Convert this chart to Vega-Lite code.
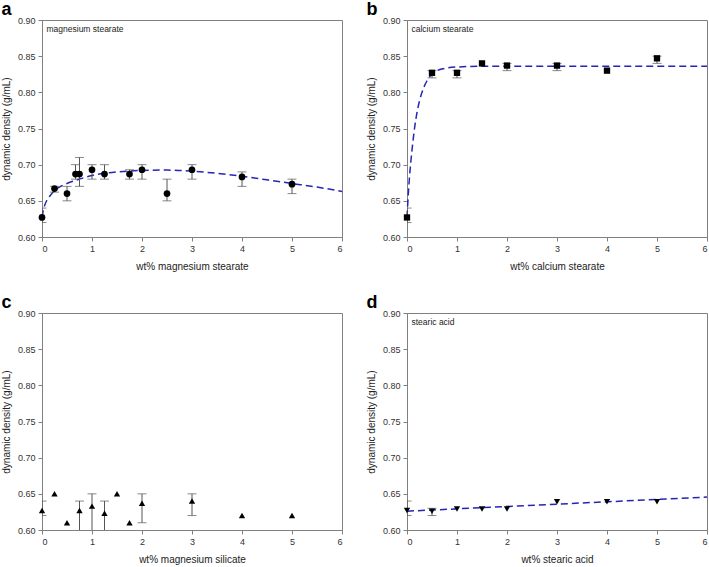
{
  "$schema": "https://vega.github.io/schema/vega-lite/v6.json",
  "padding": {"left": 0, "top": 0, "right": 0, "bottom": 0},
  "background": "white",
  "config": {
    "font": "Liberation Sans",
    "view": {"stroke": "#808080", "strokeWidth": 1},
    "axis": {
      "domainColor": "#808080",
      "tickColor": "#808080",
      "labelColor": "#333333",
      "titleColor": "#222222",
      "labelFont": "Liberation Sans",
      "titleFont": "Liberation Sans",
      "labelFontSize": 9,
      "titleFontSize": 10,
      "titleFontWeight": "normal",
      "grid": false,
      "tickSize": 4,
      "labelPadding": 3,
      "labelOverlap": false
    },
    "axisX": {"titlePadding": 8},
    "axisY": {"titlePadding": 6},
    "title": {"anchor": "start", "frame": "bounds", "fontSize": 18, "fontWeight": "bold", "font": "Liberation Sans", "color": "#000000", "offset": -3}
  },
  "datasets": {
    "a_pts": [
      {"x": 0, "y": 0.627, "lo": 0.62, "hi": 0.64},
      {"x": 0.25, "y": 0.667, "lo": 0.662, "hi": 0.67},
      {"x": 0.5, "y": 0.66, "lo": 0.65, "hi": 0.67},
      {"x": 0.67, "y": 0.687, "lo": 0.68, "hi": 0.70},
      {"x": 0.75, "y": 0.687, "lo": 0.67, "hi": 0.71},
      {"x": 1, "y": 0.693, "lo": 0.68, "hi": 0.70},
      {"x": 1.25, "y": 0.687, "lo": 0.68, "hi": 0.70},
      {"x": 1.75, "y": 0.687, "lo": 0.68, "hi": 0.693},
      {"x": 2, "y": 0.693, "lo": 0.68, "hi": 0.70},
      {"x": 2.5, "y": 0.66, "lo": 0.65, "hi": 0.68},
      {"x": 3, "y": 0.693, "lo": 0.68, "hi": 0.70},
      {"x": 4, "y": 0.683, "lo": 0.67, "hi": 0.69},
      {"x": 5, "y": 0.673, "lo": 0.66, "hi": 0.68}
    ],
    "a_fit": [
      {"x": 0, "y": 0.627}, {"x": 0.03, "y": 0.638}, {"x": 0.06, "y": 0.645},
      {"x": 0.1, "y": 0.651}, {"x": 0.15, "y": 0.656}, {"x": 0.25, "y": 0.664},
      {"x": 0.4, "y": 0.671}, {"x": 0.5, "y": 0.674}, {"x": 0.75, "y": 0.68},
      {"x": 1, "y": 0.685}, {"x": 1.25, "y": 0.688}, {"x": 1.5, "y": 0.69},
      {"x": 2, "y": 0.692}, {"x": 2.5, "y": 0.6925}, {"x": 3, "y": 0.691},
      {"x": 3.5, "y": 0.688}, {"x": 4, "y": 0.684}, {"x": 4.5, "y": 0.679},
      {"x": 5, "y": 0.674}, {"x": 5.5, "y": 0.669}, {"x": 6, "y": 0.663}
    ],
    "b_pts": [
      {"x": 0, "y": 0.627, "lo": 0.62, "hi": 0.64},
      {"x": 0.5, "y": 0.827, "lo": 0.82, "hi": 0.83},
      {"x": 1, "y": 0.827, "lo": 0.82, "hi": 0.83},
      {"x": 1.5, "y": 0.84, "lo": null, "hi": null},
      {"x": 2, "y": 0.837, "lo": 0.83, "hi": 0.84},
      {"x": 3, "y": 0.837, "lo": 0.83, "hi": 0.84},
      {"x": 4, "y": 0.83, "lo": null, "hi": null},
      {"x": 5, "y": 0.847, "lo": 0.84, "hi": 0.85}
    ],
    "b_fit": [
      {"x": 0, "y": 0.627}, {"x": 0.025, "y": 0.658}, {"x": 0.05, "y": 0.683},
      {"x": 0.075, "y": 0.703}, {"x": 0.1, "y": 0.72}, {"x": 0.15, "y": 0.75},
      {"x": 0.2, "y": 0.772}, {"x": 0.25, "y": 0.788}, {"x": 0.3, "y": 0.8},
      {"x": 0.4, "y": 0.816}, {"x": 0.5, "y": 0.825}, {"x": 0.6, "y": 0.83},
      {"x": 0.75, "y": 0.833}, {"x": 1, "y": 0.835}, {"x": 1.5, "y": 0.836},
      {"x": 6, "y": 0.836}
    ],
    "c_pts": [
      {"x": 0, "y": 0.627, "lo": 0.62, "hi": 0.64},
      {"x": 0.25, "y": 0.65, "lo": null, "hi": null},
      {"x": 0.5, "y": 0.61, "lo": null, "hi": null},
      {"x": 0.75, "y": 0.627, "lo": 0.59, "hi": 0.64},
      {"x": 1, "y": 0.633, "lo": 0.59, "hi": 0.65},
      {"x": 1.25, "y": 0.623, "lo": 0.59, "hi": 0.64},
      {"x": 1.5, "y": 0.65, "lo": null, "hi": null},
      {"x": 1.75, "y": 0.61, "lo": null, "hi": null},
      {"x": 2, "y": 0.637, "lo": 0.61, "hi": 0.65},
      {"x": 3, "y": 0.64, "lo": 0.62, "hi": 0.65},
      {"x": 4, "y": 0.62, "lo": null, "hi": null},
      {"x": 5, "y": 0.62, "lo": null, "hi": null}
    ],
    "d_pts": [
      {"x": 0, "y": 0.627, "lo": 0.62, "hi": 0.64},
      {"x": 0.5, "y": 0.626, "lo": 0.62, "hi": 0.63},
      {"x": 1, "y": 0.629, "lo": null, "hi": null},
      {"x": 1.5, "y": 0.629, "lo": null, "hi": null},
      {"x": 2, "y": 0.629, "lo": null, "hi": null},
      {"x": 3, "y": 0.639, "lo": null, "hi": null},
      {"x": 4, "y": 0.639, "lo": null, "hi": null},
      {"x": 5, "y": 0.639, "lo": null, "hi": null}
    ],
    "d_fit": [
      {"x": 0, "y": 0.626}, {"x": 6, "y": 0.6455}
    ]
  },
  "columns": 2,
  "spacing": {"column": 19, "row": 21},
  "concat": [
    {
      "title": {"text": "a"},
      "width": 300, "height": 217,
      "layer": [
        {"data": {"name": "a_fit"}, "mark": {"type": "line", "color": "#2525b8", "strokeWidth": 1.5, "strokeDash": [7, 4], "interpolate": "monotone"},
         "encoding": {
           "x": {"field": "x", "type": "quantitative", "scale": {"domain": [0, 6], "nice": false}, "axis": {"values": [0, 1, 2, 3, 4, 5, 6], "title": "wt%  magnesium stearate"}},
           "y": {"field": "y", "type": "quantitative", "scale": {"domain": [0.6, 0.9], "nice": false, "zero": false}, "axis": {"values": [0.6, 0.65, 0.7, 0.75, 0.8, 0.85, 0.9], "format": ".2f", "title": "dynamic density  (g/mL)"}}}},
        {"data": {"name": "a_pts"}, "transform": [{"filter": "datum.lo != null"}], "mark": {"type": "rule", "color": "#555555", "strokeWidth": 1, "clip": true},
         "encoding": {
           "x": {"field": "x", "type": "quantitative", "scale": {"domain": [0, 6], "nice": false}, "axis": {"values": [0, 1, 2, 3, 4, 5, 6], "title": "wt%  magnesium stearate"}},
           "y": {"field": "lo", "type": "quantitative", "scale": {"domain": [0.6, 0.9], "nice": false, "zero": false}, "axis": {"values": [0.6, 0.65, 0.7, 0.75, 0.8, 0.85, 0.9], "format": ".2f", "title": "dynamic density  (g/mL)"}},
           "y2": {"field": "hi"}}},
        {"data": {"name": "a_pts"}, "transform": [{"filter": "datum.lo != null"}], "mark": {"type": "tick", "orient": "horizontal", "color": "#555555", "size": 9, "thickness": 1, "clip": true},
         "encoding": {
           "x": {"field": "x", "type": "quantitative", "scale": {"domain": [0, 6], "nice": false}, "axis": {"values": [0, 1, 2, 3, 4, 5, 6], "title": "wt%  magnesium stearate"}},
           "y": {"field": "lo", "type": "quantitative", "scale": {"domain": [0.6, 0.9], "nice": false, "zero": false}, "axis": {"values": [0.6, 0.65, 0.7, 0.75, 0.8, 0.85, 0.9], "format": ".2f", "title": "dynamic density  (g/mL)"}}}},
        {"data": {"name": "a_pts"}, "transform": [{"filter": "datum.lo != null"}], "mark": {"type": "tick", "orient": "horizontal", "color": "#555555", "size": 9, "thickness": 1, "clip": true},
         "encoding": {
           "x": {"field": "x", "type": "quantitative", "scale": {"domain": [0, 6], "nice": false}, "axis": {"values": [0, 1, 2, 3, 4, 5, 6], "title": "wt%  magnesium stearate"}},
           "y": {"field": "hi", "type": "quantitative", "scale": {"domain": [0.6, 0.9], "nice": false, "zero": false}, "axis": {"values": [0.6, 0.65, 0.7, 0.75, 0.8, 0.85, 0.9], "format": ".2f", "title": "dynamic density  (g/mL)"}}}},
        {"data": {"name": "a_pts"}, "mark": {"type": "point", "shape": "circle", "filled": true, "color": "#000000", "opacity": 1, "size": 45},
         "encoding": {
           "x": {"field": "x", "type": "quantitative", "scale": {"domain": [0, 6], "nice": false}, "axis": {"values": [0, 1, 2, 3, 4, 5, 6], "title": "wt%  magnesium stearate"}},
           "y": {"field": "y", "type": "quantitative", "scale": {"domain": [0.6, 0.9], "nice": false, "zero": false}, "axis": {"values": [0.6, 0.65, 0.7, 0.75, 0.8, 0.85, 0.9], "format": ".2f", "title": "dynamic density  (g/mL)"}}}},
        {"data": {"values": [{"label": "magnesium stearate"}]}, "mark": {"type": "text", "align": "left", "baseline": "middle", "fontSize": 8.5, "color": "#222222"},
         "encoding": {
           "x": {"datum": 0.09, "type": "quantitative", "scale": {"domain": [0, 6], "nice": false}, "axis": {"values": [0, 1, 2, 3, 4, 5, 6], "title": "wt%  magnesium stearate"}},
           "y": {"datum": 0.888, "type": "quantitative", "scale": {"domain": [0.6, 0.9], "nice": false, "zero": false}, "axis": {"values": [0.6, 0.65, 0.7, 0.75, 0.8, 0.85, 0.9], "format": ".2f", "title": "dynamic density  (g/mL)"}},
           "text": {"field": "label", "type": "nominal"}}}
      ]
    },
    {
      "title": {"text": "b"},
      "width": 300, "height": 217,
      "layer": [
        {"data": {"name": "b_fit"}, "mark": {"type": "line", "color": "#2525b8", "strokeWidth": 1.5, "strokeDash": [7, 4], "interpolate": "monotone"},
         "encoding": {
           "x": {"field": "x", "type": "quantitative", "scale": {"domain": [0, 6], "nice": false}, "axis": {"values": [0, 1, 2, 3, 4, 5, 6], "title": "wt% calcium stearate"}},
           "y": {"field": "y", "type": "quantitative", "scale": {"domain": [0.6, 0.9], "nice": false, "zero": false}, "axis": {"values": [0.6, 0.65, 0.7, 0.75, 0.8, 0.85, 0.9], "format": ".2f", "title": "dynamic density  (g/mL)"}}}},
        {"data": {"name": "b_pts"}, "transform": [{"filter": "datum.lo != null"}], "mark": {"type": "rule", "color": "#555555", "strokeWidth": 1, "clip": true},
         "encoding": {
           "x": {"field": "x", "type": "quantitative", "scale": {"domain": [0, 6], "nice": false}, "axis": {"values": [0, 1, 2, 3, 4, 5, 6], "title": "wt% calcium stearate"}},
           "y": {"field": "lo", "type": "quantitative", "scale": {"domain": [0.6, 0.9], "nice": false, "zero": false}, "axis": {"values": [0.6, 0.65, 0.7, 0.75, 0.8, 0.85, 0.9], "format": ".2f", "title": "dynamic density  (g/mL)"}},
           "y2": {"field": "hi"}}},
        {"data": {"name": "b_pts"}, "transform": [{"filter": "datum.lo != null"}], "mark": {"type": "tick", "orient": "horizontal", "color": "#555555", "size": 9, "thickness": 1, "clip": true},
         "encoding": {
           "x": {"field": "x", "type": "quantitative", "scale": {"domain": [0, 6], "nice": false}, "axis": {"values": [0, 1, 2, 3, 4, 5, 6], "title": "wt% calcium stearate"}},
           "y": {"field": "lo", "type": "quantitative", "scale": {"domain": [0.6, 0.9], "nice": false, "zero": false}, "axis": {"values": [0.6, 0.65, 0.7, 0.75, 0.8, 0.85, 0.9], "format": ".2f", "title": "dynamic density  (g/mL)"}}}},
        {"data": {"name": "b_pts"}, "transform": [{"filter": "datum.lo != null"}], "mark": {"type": "tick", "orient": "horizontal", "color": "#555555", "size": 9, "thickness": 1, "clip": true},
         "encoding": {
           "x": {"field": "x", "type": "quantitative", "scale": {"domain": [0, 6], "nice": false}, "axis": {"values": [0, 1, 2, 3, 4, 5, 6], "title": "wt% calcium stearate"}},
           "y": {"field": "hi", "type": "quantitative", "scale": {"domain": [0.6, 0.9], "nice": false, "zero": false}, "axis": {"values": [0.6, 0.65, 0.7, 0.75, 0.8, 0.85, 0.9], "format": ".2f", "title": "dynamic density  (g/mL)"}}}},
        {"data": {"name": "b_pts"}, "mark": {"type": "point", "shape": "square", "filled": true, "color": "#000000", "opacity": 1, "size": 40},
         "encoding": {
           "x": {"field": "x", "type": "quantitative", "scale": {"domain": [0, 6], "nice": false}, "axis": {"values": [0, 1, 2, 3, 4, 5, 6], "title": "wt% calcium stearate"}},
           "y": {"field": "y", "type": "quantitative", "scale": {"domain": [0.6, 0.9], "nice": false, "zero": false}, "axis": {"values": [0.6, 0.65, 0.7, 0.75, 0.8, 0.85, 0.9], "format": ".2f", "title": "dynamic density  (g/mL)"}}}},
        {"data": {"values": [{"label": "calcium stearate"}]}, "mark": {"type": "text", "align": "left", "baseline": "middle", "fontSize": 8.5, "color": "#222222"},
         "encoding": {
           "x": {"datum": 0.09, "type": "quantitative", "scale": {"domain": [0, 6], "nice": false}, "axis": {"values": [0, 1, 2, 3, 4, 5, 6], "title": "wt% calcium stearate"}},
           "y": {"datum": 0.888, "type": "quantitative", "scale": {"domain": [0.6, 0.9], "nice": false, "zero": false}, "axis": {"values": [0.6, 0.65, 0.7, 0.75, 0.8, 0.85, 0.9], "format": ".2f", "title": "dynamic density  (g/mL)"}},
           "text": {"field": "label", "type": "nominal"}}}
      ]
    },
    {
      "title": {"text": "c"},
      "width": 300, "height": 217,
      "layer": [
        {"data": {"name": "c_pts"}, "transform": [{"filter": "datum.lo != null"}], "mark": {"type": "rule", "color": "#555555", "strokeWidth": 1, "clip": true},
         "encoding": {
           "x": {"field": "x", "type": "quantitative", "scale": {"domain": [0, 6], "nice": false}, "axis": {"values": [0, 1, 2, 3, 4, 5, 6], "title": "wt% magnesium silicate"}},
           "y": {"field": "lo", "type": "quantitative", "scale": {"domain": [0.6, 0.9], "nice": false, "zero": false}, "axis": {"values": [0.6, 0.65, 0.7, 0.75, 0.8, 0.85, 0.9], "format": ".2f", "title": "dynamic density  (g/mL)"}},
           "y2": {"field": "hi"}}},
        {"data": {"name": "c_pts"}, "transform": [{"filter": "datum.lo != null"}], "mark": {"type": "tick", "orient": "horizontal", "color": "#555555", "size": 9, "thickness": 1, "clip": true},
         "encoding": {
           "x": {"field": "x", "type": "quantitative", "scale": {"domain": [0, 6], "nice": false}, "axis": {"values": [0, 1, 2, 3, 4, 5, 6], "title": "wt% magnesium silicate"}},
           "y": {"field": "lo", "type": "quantitative", "scale": {"domain": [0.6, 0.9], "nice": false, "zero": false}, "axis": {"values": [0.6, 0.65, 0.7, 0.75, 0.8, 0.85, 0.9], "format": ".2f", "title": "dynamic density  (g/mL)"}}}},
        {"data": {"name": "c_pts"}, "transform": [{"filter": "datum.lo != null"}], "mark": {"type": "tick", "orient": "horizontal", "color": "#555555", "size": 9, "thickness": 1, "clip": true},
         "encoding": {
           "x": {"field": "x", "type": "quantitative", "scale": {"domain": [0, 6], "nice": false}, "axis": {"values": [0, 1, 2, 3, 4, 5, 6], "title": "wt% magnesium silicate"}},
           "y": {"field": "hi", "type": "quantitative", "scale": {"domain": [0.6, 0.9], "nice": false, "zero": false}, "axis": {"values": [0.6, 0.65, 0.7, 0.75, 0.8, 0.85, 0.9], "format": ".2f", "title": "dynamic density  (g/mL)"}}}},
        {"data": {"name": "c_pts"}, "mark": {"type": "point", "shape": "triangle-up", "filled": true, "color": "#000000", "opacity": 1, "size": 40},
         "encoding": {
           "x": {"field": "x", "type": "quantitative", "scale": {"domain": [0, 6], "nice": false}, "axis": {"values": [0, 1, 2, 3, 4, 5, 6], "title": "wt% magnesium silicate"}},
           "y": {"field": "y", "type": "quantitative", "scale": {"domain": [0.6, 0.9], "nice": false, "zero": false}, "axis": {"values": [0.6, 0.65, 0.7, 0.75, 0.8, 0.85, 0.9], "format": ".2f", "title": "dynamic density  (g/mL)"}}}}
      ]
    },
    {
      "title": {"text": "d"},
      "width": 300, "height": 217,
      "layer": [
        {"data": {"name": "d_fit"}, "mark": {"type": "line", "color": "#2525b8", "strokeWidth": 1.5, "strokeDash": [7, 4]},
         "encoding": {
           "x": {"field": "x", "type": "quantitative", "scale": {"domain": [0, 6], "nice": false}, "axis": {"values": [0, 1, 2, 3, 4, 5, 6], "title": "wt% stearic acid"}},
           "y": {"field": "y", "type": "quantitative", "scale": {"domain": [0.6, 0.9], "nice": false, "zero": false}, "axis": {"values": [0.6, 0.65, 0.7, 0.75, 0.8, 0.85, 0.9], "format": ".2f", "title": "dynamic density  (g/mL)"}}}},
        {"data": {"name": "d_pts"}, "transform": [{"filter": "datum.lo != null"}], "mark": {"type": "rule", "color": "#555555", "strokeWidth": 1, "clip": true},
         "encoding": {
           "x": {"field": "x", "type": "quantitative", "scale": {"domain": [0, 6], "nice": false}, "axis": {"values": [0, 1, 2, 3, 4, 5, 6], "title": "wt% stearic acid"}},
           "y": {"field": "lo", "type": "quantitative", "scale": {"domain": [0.6, 0.9], "nice": false, "zero": false}, "axis": {"values": [0.6, 0.65, 0.7, 0.75, 0.8, 0.85, 0.9], "format": ".2f", "title": "dynamic density  (g/mL)"}},
           "y2": {"field": "hi"}}},
        {"data": {"name": "d_pts"}, "transform": [{"filter": "datum.lo != null"}], "mark": {"type": "tick", "orient": "horizontal", "color": "#555555", "size": 9, "thickness": 1, "clip": true},
         "encoding": {
           "x": {"field": "x", "type": "quantitative", "scale": {"domain": [0, 6], "nice": false}, "axis": {"values": [0, 1, 2, 3, 4, 5, 6], "title": "wt% stearic acid"}},
           "y": {"field": "lo", "type": "quantitative", "scale": {"domain": [0.6, 0.9], "nice": false, "zero": false}, "axis": {"values": [0.6, 0.65, 0.7, 0.75, 0.8, 0.85, 0.9], "format": ".2f", "title": "dynamic density  (g/mL)"}}}},
        {"data": {"name": "d_pts"}, "transform": [{"filter": "datum.lo != null"}], "mark": {"type": "tick", "orient": "horizontal", "color": "#555555", "size": 9, "thickness": 1, "clip": true},
         "encoding": {
           "x": {"field": "x", "type": "quantitative", "scale": {"domain": [0, 6], "nice": false}, "axis": {"values": [0, 1, 2, 3, 4, 5, 6], "title": "wt% stearic acid"}},
           "y": {"field": "hi", "type": "quantitative", "scale": {"domain": [0.6, 0.9], "nice": false, "zero": false}, "axis": {"values": [0.6, 0.65, 0.7, 0.75, 0.8, 0.85, 0.9], "format": ".2f", "title": "dynamic density  (g/mL)"}}}},
        {"data": {"name": "d_pts"}, "mark": {"type": "point", "shape": "triangle-down", "filled": true, "color": "#000000", "opacity": 1, "size": 40},
         "encoding": {
           "x": {"field": "x", "type": "quantitative", "scale": {"domain": [0, 6], "nice": false}, "axis": {"values": [0, 1, 2, 3, 4, 5, 6], "title": "wt% stearic acid"}},
           "y": {"field": "y", "type": "quantitative", "scale": {"domain": [0.6, 0.9], "nice": false, "zero": false}, "axis": {"values": [0.6, 0.65, 0.7, 0.75, 0.8, 0.85, 0.9], "format": ".2f", "title": "dynamic density  (g/mL)"}}}},
        {"data": {"values": [{"label": "stearic acid"}]}, "mark": {"type": "text", "align": "left", "baseline": "middle", "fontSize": 8.5, "color": "#222222"},
         "encoding": {
           "x": {"datum": 0.09, "type": "quantitative", "scale": {"domain": [0, 6], "nice": false}, "axis": {"values": [0, 1, 2, 3, 4, 5, 6], "title": "wt% stearic acid"}},
           "y": {"datum": 0.888, "type": "quantitative", "scale": {"domain": [0.6, 0.9], "nice": false, "zero": false}, "axis": {"values": [0.6, 0.65, 0.7, 0.75, 0.8, 0.85, 0.9], "format": ".2f", "title": "dynamic density  (g/mL)"}},
           "text": {"field": "label", "type": "nominal"}}}
      ]
    }
  ]
}
